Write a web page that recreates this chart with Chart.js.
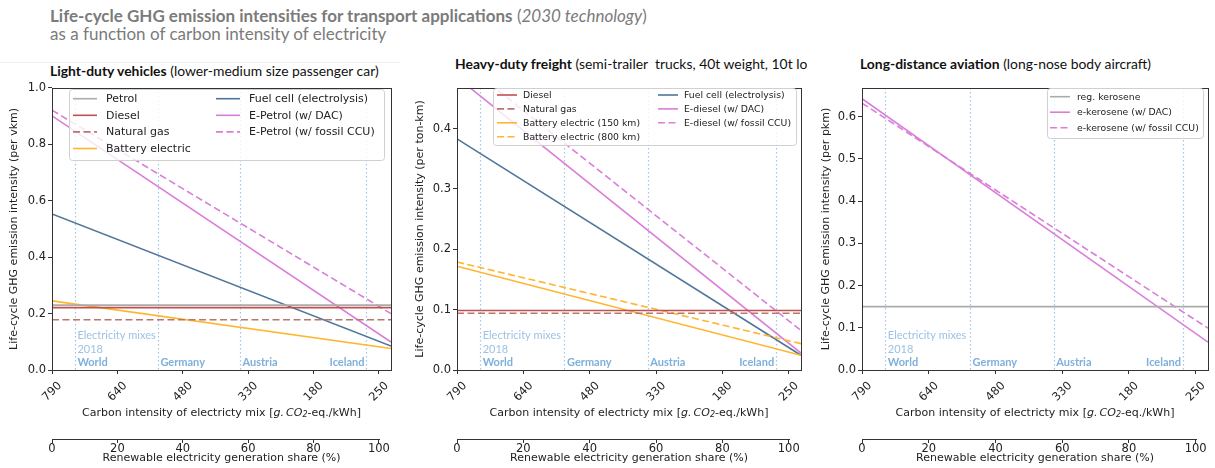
<!DOCTYPE html>
<html>
<head>
<meta charset="utf-8">
<script src="https://cdn.jsdelivr.net/npm/chart.js@4.4.1/dist/chart.umd.min.js"></script>
<style>
  body { margin: 0; width: 1215px; height: 468px; background: #fff; position: relative; overflow: hidden; font-family: Lato, "Open Sans", sans-serif; }
  .main { position: absolute; left: 50px; top: 7px; color: #7b7b7b; font-size: 17px; line-height: 18px; white-space: nowrap; }
  .main b { font-weight: 700; }
  .sep { position: absolute; left: 0; top: 62px; width: 400px; height: 1px; background: #f0f0f0; }
  .ptitle { position: absolute; font-size: 13.9px; line-height: 16px; color: #111; white-space: nowrap; overflow: hidden; }
  canvas { position: absolute; top: 79px; }
</style>
</head>
<body>
<div class="main"><b>Life-cycle GHG emission intensities for transport applications</b> (<i>2030 technology</i>)<br>as a function of carbon intensity of electricity</div>
<div class="sep"></div>
<div class="ptitle" style="left:50px; top:63px; width:350px;"><b>Light-duty vehicles</b> (lower-medium size passenger car)</div>
<div class="ptitle" style="left:455px; top:56px; width:352px;"><b>Heavy-duty freight</b> (semi-trailer&nbsp; trucks, 40t weight, 10t load)</div>
<div class="ptitle" style="left:860px; top:56px; width:350px;"><b>Long-distance aviation</b> (long-nose body aircraft)</div>
<canvas id="ldv" width="400" height="389" style="left:0px"></canvas>
<canvas id="hdv" width="410" height="389" style="left:400px"></canvas>
<canvas id="air" width="410" height="389" style="left:805px"></canvas>
<script>
// x is renewable share (%), plots run a little past 100
const shareRange = [0, 103.7];
const shareTicks = [0, 20, 40, 60, 80, 100];
const carbonLabels = ['790', '640', '480', '330', '180', '250'];
const mixNames = ['World', 'Germany', 'Austria', 'Iceland'];
const mixShare = [7.0, 32.4, 57.5, 96.2];

// light-duty vehicles, per vkm (value at 0% and at right edge)
const ldvPetrol = [0.230, 0.230];
const ldvDiesel = [0.221, 0.221];
const ldvNaturalGas = [0.178, 0.178];
const ldvBattery = [0.245, 0.076];
const ldvFuelCell = [0.553, 0.085];
const ldvEPetrolDac = [0.901, 0.099];
const ldvEPetrolCcu = [0.921, 0.200];
const ldvYTicks = [0, 0.2, 0.4, 0.6, 0.8, 1.0];

// heavy-duty freight, per ton-km
const hdvDiesel = [0.0985, 0.0985];
const hdvNaturalGas = [0.094, 0.094];
const hdvBattery150 = [0.172, 0.0245];
const hdvBattery800 = [0.179, 0.0436];
const hdvFuelCell = [0.383, 0.0245];
const hdvEDieselDac = [0.485, 0.028];
const hdvEDieselCcu = [0.517, 0.0654];
const hdvYTicks = [0, 0.1, 0.2, 0.3, 0.4];

// aviation, per pkm
const airKerosene = [0.150, 0.150];
const airEKeroseneDac = [0.6425, 0.066];
const airEKeroseneCcu = [0.632, 0.099];
const airYTicks = [0, 0.1, 0.2, 0.3, 0.4, 0.5, 0.6];

const GRAY = '#ababab', RED = '#c0504d', BROWN = '#b8776e', ORANGE = '#ffb52e',
      BLUE = '#50759a', PINK = '#d97ed9', MIX = '#9fc5e8', MIXTXT = '#7eb0dc';
const AXIS = '#333';
const tickFont = { family: 'DejaVu Sans', size: 11.5 };
const labelFont = { family: 'DejaVu Sans', size: 11 };

function series(label, values, color, dashed) {
  return {
    label,
    data: shareRange.map((s, i) => ({ x: s, y: values[i] })),
    borderColor: color,
    borderWidth: 1.6,
    borderDash: dashed ? [7, 3.5] : [],
    pointRadius: 0,
    tension: 0,
    fill: false
  };
}

// legend layout per canvas (canvas coords)
const legendSpec = {
  ldv: { box: [69, 10, 315, 71], cols: [[0, 1, 2, 3], [4, 5, 6]], colX: [73, 216], rowY: 19.7, rowStep: 16.6, handle: 24, gap: 9, font: '11px "DejaVu Sans"' },
  hdv: { box: [93, 9, 303, 57], cols: [[0, 1, 2, 3], [4, 5, 6]], colX: [97, 258], rowY: 16, rowStep: 13.9, handle: 20, gap: 6, font: '9.3px "DejaVu Sans"' },
  air: { box: [242, 9, 156, 50], cols: [[0, 1, 2]], colX: [245], rowY: 17.7, rowStep: 15.5, handle: 20, gap: 7, font: '9.3px "DejaVu Sans"' }
};

const panelDecor = {
  id: 'panelDecor',
  beforeDatasetsDraw(chart) {
    const { ctx, chartArea: a, scales: { x } } = chart;
    ctx.save();
    ctx.strokeStyle = MIX;
    ctx.lineWidth = 1.2;
    ctx.setLineDash([1.5, 2.5]);
    mixShare.forEach(v => {
      const px = Math.round(x.getPixelForValue(v)) + 0.5;
      ctx.beginPath();
      ctx.moveTo(px, a.top);
      ctx.lineTo(px, a.bottom);
      ctx.stroke();
    });
    ctx.setLineDash([]);
    ctx.textBaseline = 'middle';
    const x0 = x.getPixelForValue(mixShare[0]) + 2.5;
    ctx.fillStyle = '#9cc2e5';
    ctx.font = '11px Lato';
    ctx.textAlign = 'left';
    ctx.fillText('Electricity mixes', x0, a.bottom - 34.3);
    ctx.fillText('2018', x0, a.bottom - 21);
    ctx.fillStyle = MIXTXT;
    ctx.font = 'bold 11px Lato';
    mixNames.forEach((n, i) => {
      const px = x.getPixelForValue(mixShare[i]);
      if (i === mixNames.length - 1) {
        ctx.textAlign = 'right';
        ctx.fillText(n, px - 2, a.bottom - 7.3);
      } else {
        ctx.textAlign = 'left';
        ctx.fillText(n, px + 2.5, a.bottom - 7.3);
      }
    });
    ctx.restore();
  },
  afterDatasetsDraw(chart) {
    const { ctx, chartArea: a } = chart;
    ctx.save();
    ctx.strokeStyle = AXIS;
    ctx.lineWidth = 1;
    ctx.strokeRect(Math.round(a.left) + 0.5, Math.round(a.top) + 0.5, Math.round(a.right - a.left), Math.round(a.bottom - a.top));
    ctx.restore();
  },
  afterDraw(chart) {
    const { ctx, chartArea: a, scales: { x, x2 } } = chart;
    const spec = legendSpec[chart.canvas.id];
    const ds = chart.data.datasets;
    ctx.save();
    // legend
    const [bx, by, bw, bh] = spec.box;
    ctx.fillStyle = 'rgba(255,255,255,0.8)';
    ctx.strokeStyle = '#d0d0d0';
    ctx.lineWidth = 1;
    ctx.beginPath();
    ctx.roundRect(bx + 0.5, by + 0.5, bw, bh, 3);
    ctx.fill();
    ctx.stroke();
    ctx.font = spec.font;
    ctx.textBaseline = 'middle';
    ctx.textAlign = 'left';
    spec.cols.forEach((col, c) => {
      col.forEach((di, r) => {
        const d = ds[di];
        const y = spec.rowY + r * spec.rowStep;
        const hx = spec.colX[c];
        ctx.strokeStyle = d.borderColor;
        ctx.lineWidth = 1.6;
        ctx.setLineDash(d.borderDash);
        ctx.beginPath();
        ctx.moveTo(hx, y);
        ctx.lineTo(hx + spec.handle, y);
        ctx.stroke();
        ctx.setLineDash([]);
        ctx.fillStyle = '#222';
        ctx.fillText(d.label, hx + spec.handle + spec.gap, y + 0.5);
      });
    });
    // carbon intensity axis title with math part
    const parts = [
      ['Carbon intensity of electricty mix [', '11px "DejaVu Sans"', 0],
      ['g.\u2009CO', 'italic 11px "DejaVu Sans"', 0],
      ['2', 'italic 8px "DejaVu Sans"', 2.5],
      ['-eq./kWh]', '11px "DejaVu Sans"', 0]
    ];
    let total = 0;
    parts.forEach(p => { ctx.font = p[1]; total += ctx.measureText(p[0]).width; });
    let tx = (a.left + a.right) / 2 - total / 2;
    const ty = x.bottom - 26.3;
    ctx.fillStyle = '#222';
    parts.forEach(p => {
      ctx.font = p[1];
      ctx.fillText(p[0], tx, ty + p[2]);
      tx += ctx.measureText(p[0]).width;
    });
    // second axis spine only over 0..100
    ctx.strokeStyle = AXIS;
    ctx.lineWidth = 1;
    ctx.beginPath();
    ctx.moveTo(Math.round(x2.getPixelForValue(0)), Math.round(x2.top) + 0.5);
    ctx.lineTo(Math.round(x2.getPixelForValue(100)) + 1, Math.round(x2.top) + 0.5);
    ctx.stroke();
    ctx.restore();
  }
};

function makePanel(id, datasets, yMax, yTicks, yTitle, leftW, padRight, yTitlePad) {
  return new Chart(document.getElementById(id), {
    type: 'line',
    data: { datasets },
    options: {
      responsive: false,
      animation: false,
      layout: { padding: { top: 0, right: padRight, left: 0, bottom: 0 } },
      plugins: { legend: { display: false }, tooltip: { enabled: false } },
      scales: {
        x: {
          type: 'linear', position: 'bottom', min: shareRange[0], max: shareRange[1],
          afterBuildTicks: s => { s.ticks = shareTicks.map(v => ({ value: v })); },
          afterFit: s => { s.height = 69; },
          ticks: { autoSkip: false, minRotation: 45, maxRotation: 45, padding: 5, labelOffset: 8, color: '#222', font: tickFont,
                   callback: (v, i) => carbonLabels[i] },
          grid: { drawOnChartArea: false, tickLength: 4, color: AXIS },
          border: { display: false }
        },
        x2: {
          type: 'linear', axis: 'x', position: 'bottom', weight: 1, min: shareRange[0], max: shareRange[1],
          afterBuildTicks: s => { s.ticks = shareTicks.map(v => ({ value: v })); },
          afterFit: s => { s.height = 29; },
          ticks: { autoSkip: false, maxRotation: 0, padding: -1, color: '#222', font: tickFont },
          grid: { drawOnChartArea: false, tickLength: 4, color: AXIS },
          border: { display: false },
          title: { display: true, text: 'Renewable electricity generation share (%)', color: '#222', font: labelFont, padding: { top: 0, bottom: 3.5 } }
        },
        y: {
          min: 0, max: yMax,
          afterBuildTicks: s => { s.ticks = yTicks.map(v => ({ value: v })); },
          afterFit: s => { s.width = leftW; },
          ticks: { padding: 2, color: '#222', font: tickFont, callback: v => v.toFixed(1) },
          grid: { drawOnChartArea: false, tickLength: 4, color: AXIS },
          border: { display: false },
          title: { display: true, text: yTitle, color: '#222', font: labelFont, padding: { top: yTitlePad, bottom: 0 } }
        }
      }
    },
    plugins: [panelDecor]
  });
}

makePanel('ldv', [
  series('Petrol', ldvPetrol, GRAY, false),
  series('Diesel', ldvDiesel, RED, false),
  series('Natural gas', ldvNaturalGas, BROWN, true),
  series('Battery electric', ldvBattery, ORANGE, false),
  series('Fuel cell (electrolysis)', ldvFuelCell, BLUE, false),
  series('E-Petrol (w/ DAC)', ldvEPetrolDac, PINK, false),
  series('E-Petrol (w/ fossil CCU)', ldvEPetrolCcu, PINK, true)
], 1.0, ldvYTicks, 'Life-cycle GHG emission intensity (per vkm)', 52, 9, 7.9);

makePanel('hdv', [
  series('Diesel', hdvDiesel, RED, false),
  series('Natural gas', hdvNaturalGas, BROWN, true),
  series('Battery electric (150 km)', hdvBattery150, ORANGE, false),
  series('Battery electric (800 km)', hdvBattery800, ORANGE, true),
  series('Fuel cell (electrolysis)', hdvFuelCell, BLUE, false),
  series('E-diesel (w/ DAC)', hdvEDieselDac, PINK, false),
  series('E-diesel (w/ fossil CCU)', hdvEDieselCcu, PINK, true)
], 0.4675, hdvYTicks, 'Life-cycle GHG emission intensity (per ton-km)', 57, 9, 13.4);

makePanel('air', [
  series('reg. kerosene', airKerosene, GRAY, false),
  series('e-kerosene (w/ DAC)', airEKeroseneDac, PINK, false),
  series('e-kerosene (w/ fossil CCU)', airEKeroseneCcu, PINK, true)
], 0.668, airYTicks, 'Life-cycle GHG emission intensity (per pkm)', 57, 7, 14.4);
</script>
</body>
</html>
